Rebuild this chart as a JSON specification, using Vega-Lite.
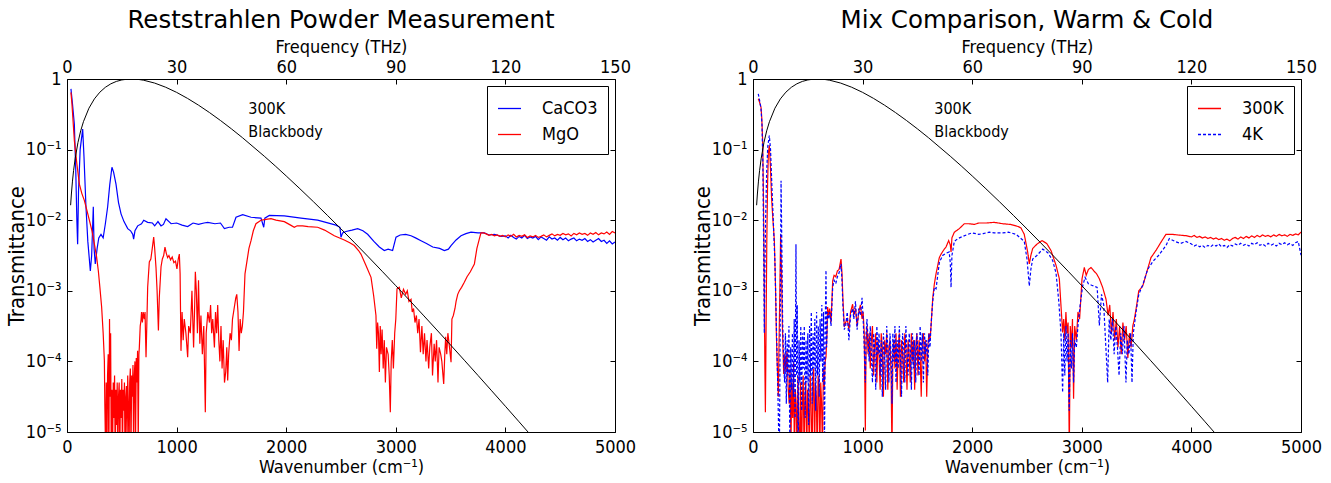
{
"$schema": "https://vega.github.io/schema/vega-lite/v6.json",
"padding": {"left": 4, "top": 7, "right": 5, "bottom": 2},
"background": "white",
"config": {
  "font": "DejaVu Sans Condensed",
  "view": {"stroke": "black", "strokeWidth": 1},
  "axis": {"grid": false, "domain": false, "tickColor": "black", "tickSize": -5, "tickWidth": 1, "labelColor": "black", "titleColor": "black", "labelFont": "DejaVu Sans Condensed", "titleFont": "DejaVu Sans Condensed", "labelFontSize": 18, "titleFontSize": 18, "titleFontWeight": "normal", "labelFlush": false, "labelOverlap": false, "labelBound": false},
  "legend": {"orient": "top-right", "offset": 7, "padding": 10, "strokeColor": "black", "fillColor": "white", "cornerRadius": 0, "labelFontSize": 18, "labelFont": "DejaVu Sans Condensed", "labelColor": "black", "symbolType": "stroke", "symbolSize": 529, "symbolStrokeWidth": 1.3, "rowPadding": 4, "labelOffset": 20},
  "title": {"fontSize": 24.5, "font": "DejaVu Sans", "fontWeight": "normal", "color": "black", "offset": 5, "anchor": "middle"}
},
"resolve": {"scale": {"color": "independent", "strokeDash": "independent"}, "legend": {"color": "independent", "strokeDash": "independent"}},
"datasets": {
  "bb": [{"x":33,"y":0.0163},{"x":40,"y":0.0235},{"x":50,"y":0.0358},{"x":60,"y":0.0503},{"x":75,"y":0.0756},{"x":100,"y":0.1261},{"x":125,"y":0.1845},{"x":150,"y":0.2486},{"x":200,"y":0.3856},{"x":250,"y":0.5232},{"x":300,"y":0.6514},{"x":350,"y":0.7633},{"x":400,"y":0.8547},{"x":450,"y":0.9236},{"x":500,"y":0.9698},{"x":550,"y":0.9943},{"x":600,"y":0.9993},{"x":650,"y":0.9869},{"x":700,"y":0.9604},{"x":800,"y":0.8754},{"x":900,"y":0.7651},{"x":1000,"y":0.6466},{"x":1100,"y":0.531},{"x":1200,"y":0.4257},{"x":1300,"y":0.3348},{"x":1400,"y":0.2585},{"x":1500,"y":0.1968},{"x":1600,"y":0.1478},{"x":1800,"y":0.0806},{"x":1900,"y":0.0587},{"x":2000,"y":0.04238},{"x":2125,"y":0.0279},{"x":2250,"y":0.01819},{"x":2375,"y":0.01174},{"x":2500,"y":0.007524},{"x":2625,"y":0.00478},{"x":2750,"y":0.003019},{"x":2875,"y":0.001893},{"x":3000,"y":0.0011818},{"x":3125,"y":0.0007334},{"x":3250,"y":0.000453},{"x":3375,"y":0.0002785},{"x":3500,"y":0.0001706},{"x":3625,"y":0.000104},{"x":3750,"y":0.00006326},{"x":3875,"y":0.0000383},{"x":4000,"y":0.00002315},{"x":4125,"y":0.00001394},{"x":4250,"y":0.00000837},{"x":4500,"y":0.000003}],
  "ann": [{"x":1654,"y":0.37,"t":"300K\nBlackbody"}],
  "left": [
{"s":"CaCO3","x":36,"y":0.724},{"s":"CaCO3","x":50,"y":0.447},{"s":"CaCO3","x":67,"y":0.229},{"s":"CaCO3","x":80,"y":0.0501},{"s":"CaCO3","x":90,"y":0.01},{"s":"CaCO3","x":97,"y":0.00457},{"s":"CaCO3","x":105,"y":0.0251},{"s":"CaCO3","x":120,"y":0.1},{"s":"CaCO3","x":143,"y":0.195},{"s":"CaCO3","x":155,"y":0.0794},{"s":"CaCO3","x":173,"y":0.0155},{"s":"CaCO3","x":190,"y":0.00501},{"s":"CaCO3","x":213,"y":0.00191},{"s":"CaCO3","x":225,"y":0.00316},{"s":"CaCO3","x":240,"y":0.0155},{"s":"CaCO3","x":247,"y":0.00398},{"s":"CaCO3","x":258,"y":0.0024},{"s":"CaCO3","x":275,"y":0.00398},{"s":"CaCO3","x":290,"y":0.00562},{"s":"CaCO3","x":310,"y":0.00631},{"s":"CaCO3","x":330,"y":0.00562},{"s":"CaCO3","x":350,"y":0.00891},{"s":"CaCO3","x":371,"y":0.0155},{"s":"CaCO3","x":390,"y":0.0316},{"s":"CaCO3","x":410,"y":0.0562},{"s":"CaCO3","x":425,"y":0.0479},{"s":"CaCO3","x":447,"y":0.0324},{"s":"CaCO3","x":470,"y":0.0178},{"s":"CaCO3","x":493,"y":0.0123},{"s":"CaCO3","x":520,"y":0.00955},{"s":"CaCO3","x":554,"y":0.00759},{"s":"CaCO3","x":580,"y":0.00708},{"s":"CaCO3","x":600,"y":0.00631},{"s":"CaCO3","x":608,"y":0.00537},{"s":"CaCO3","x":620,"y":0.00708},{"s":"CaCO3","x":645,"y":0.00832},{"s":"CaCO3","x":680,"y":0.00891},{"s":"CaCO3","x":700,"y":0.01},{"s":"CaCO3","x":736,"y":0.00933},{"s":"CaCO3","x":780,"y":0.00912},{"s":"CaCO3","x":800,"y":0.00832},{"s":"CaCO3","x":830,"y":0.00955},{"s":"CaCO3","x":858,"y":0.00832},{"s":"CaCO3","x":880,"y":0.00871},{"s":"CaCO3","x":903,"y":0.0105},{"s":"CaCO3","x":950,"y":0.00891},{"s":"CaCO3","x":1000,"y":0.00912},{"s":"CaCO3","x":1050,"y":0.00851},{"s":"CaCO3","x":1101,"y":0.00813},{"s":"CaCO3","x":1150,"y":0.00912},{"s":"CaCO3","x":1200,"y":0.00871},{"s":"CaCO3","x":1250,"y":0.00912},{"s":"CaCO3","x":1284,"y":0.00933},{"s":"CaCO3","x":1350,"y":0.00891},{"s":"CaCO3","x":1400,"y":0.00912},{"s":"CaCO3","x":1436,"y":0.00759},{"s":"CaCO3","x":1480,"y":0.00794},{"s":"CaCO3","x":1510,"y":0.00794},{"s":"CaCO3","x":1542,"y":0.011},{"s":"CaCO3","x":1603,"y":0.012},{"s":"CaCO3","x":1679,"y":0.011},{"s":"CaCO3","x":1770,"y":0.0107},{"s":"CaCO3","x":1795,"y":0.00794},{"s":"CaCO3","x":1805,"y":0.0107},{"s":"CaCO3","x":1846,"y":0.0117},{"s":"CaCO3","x":1983,"y":0.0115},{"s":"CaCO3","x":2135,"y":0.0107},{"s":"CaCO3","x":2287,"y":0.01},{"s":"CaCO3","x":2454,"y":0.00851},{"s":"CaCO3","x":2490,"y":0.00794},{"s":"CaCO3","x":2500,"y":0.00575},{"s":"CaCO3","x":2515,"y":0.00661},{"s":"CaCO3","x":2545,"y":0.00692},{"s":"CaCO3","x":2600,"y":0.00724},{"s":"CaCO3","x":2652,"y":0.00759},{"s":"CaCO3","x":2700,"y":0.00708},{"s":"CaCO3","x":2743,"y":0.00631},{"s":"CaCO3","x":2800,"y":0.00501},{"s":"CaCO3","x":2850,"y":0.00417},{"s":"CaCO3","x":2895,"y":0.00372},{"s":"CaCO3","x":2930,"y":0.00389},{"s":"CaCO3","x":2971,"y":0.00372},{"s":"CaCO3","x":3002,"y":0.00575},{"s":"CaCO3","x":3040,"y":0.00617},{"s":"CaCO3","x":3090,"y":0.00631},{"s":"CaCO3","x":3139,"y":0.00603},{"s":"CaCO3","x":3180,"y":0.00562},{"s":"CaCO3","x":3230,"y":0.00513},{"s":"CaCO3","x":3280,"y":0.00468},{"s":"CaCO3","x":3337,"y":0.00417},{"s":"CaCO3","x":3400,"y":0.00398},{"s":"CaCO3","x":3443,"y":0.00372},{"s":"CaCO3","x":3480,"y":0.00389},{"s":"CaCO3","x":3504,"y":0.00437},{"s":"CaCO3","x":3550,"y":0.00525},{"s":"CaCO3","x":3595,"y":0.00603},{"s":"CaCO3","x":3640,"y":0.00646},{"s":"CaCO3","x":3686,"y":0.00676},{"s":"CaCO3","x":3750,"y":0.00661},{"s":"CaCO3","x":3808,"y":0.00661},{"s":"CaCO3","x":3850,"y":0.00617},{"s":"CaCO3","x":3900,"y":0.00631},{"s":"CaCO3","x":3960,"y":0.00589},
{"s":"CaCO3","x":4000,"y":0.0060},{"s":"CaCO3","x":4025,"y":0.0056},{"s":"CaCO3","x":4050,"y":0.0061},{"s":"CaCO3","x":4075,"y":0.0057},{"s":"CaCO3","x":4100,"y":0.0054},{"s":"CaCO3","x":4125,"y":0.0059},{"s":"CaCO3","x":4150,"y":0.0056},{"s":"CaCO3","x":4175,"y":0.0061},{"s":"CaCO3","x":4200,"y":0.0055},{"s":"CaCO3","x":4225,"y":0.0058},{"s":"CaCO3","x":4250,"y":0.0056},{"s":"CaCO3","x":4275,"y":0.0059},{"s":"CaCO3","x":4300,"y":0.0053},{"s":"CaCO3","x":4325,"y":0.0058},{"s":"CaCO3","x":4350,"y":0.0055},{"s":"CaCO3","x":4375,"y":0.0052},{"s":"CaCO3","x":4400,"y":0.0058},{"s":"CaCO3","x":4425,"y":0.0054},{"s":"CaCO3","x":4450,"y":0.0056},{"s":"CaCO3","x":4475,"y":0.0052},{"s":"CaCO3","x":4500,"y":0.0057},{"s":"CaCO3","x":4525,"y":0.0053},{"s":"CaCO3","x":4550,"y":0.0056},{"s":"CaCO3","x":4575,"y":0.0051},{"s":"CaCO3","x":4600,"y":0.0054},{"s":"CaCO3","x":4625,"y":0.0056},{"s":"CaCO3","x":4650,"y":0.0051},{"s":"CaCO3","x":4675,"y":0.0054},{"s":"CaCO3","x":4700,"y":0.0052},{"s":"CaCO3","x":4725,"y":0.0055},{"s":"CaCO3","x":4750,"y":0.0050},{"s":"CaCO3","x":4775,"y":0.0053},{"s":"CaCO3","x":4800,"y":0.0049},{"s":"CaCO3","x":4825,"y":0.0052},{"s":"CaCO3","x":4850,"y":0.0055},{"s":"CaCO3","x":4875,"y":0.0050},{"s":"CaCO3","x":4900,"y":0.0052},{"s":"CaCO3","x":4925,"y":0.0047},{"s":"CaCO3","x":4950,"y":0.0051},{"s":"CaCO3","x":4975,"y":0.0046},{"s":"CaCO3","x":5000,"y":0.0049},
{"s":"MgO","x":36,"y":0.646},{"s":"MgO","x":45,"y":0.447},{"s":"MgO","x":67,"y":0.135},{"s":"MgO","x":90,"y":0.0631},{"s":"MgO","x":113,"y":0.0324},{"s":"MgO","x":135,"y":0.024},{"s":"MgO","x":158,"y":0.0191},{"s":"MgO","x":180,"y":0.0141},{"s":"MgO","x":204,"y":0.01},{"s":"MgO","x":228,"y":0.00708},{"s":"MgO","x":250,"y":0.00457},{"s":"MgO","x":270,"y":0.00302},{"s":"MgO","x":286,"y":0.00191},{"s":"MgO","x":300,"y":0.00112},{"s":"MgO","x":316,"y":0.000589},{"s":"MgO","x":330,"y":0.000251},{"s":"MgO","x":341,"y":0.000102},
{"s":"MgO","x":345,"y":2.51e-5},{"s":"MgO","x":352,"y":5.01e-6},{"s":"MgO","x":358,"y":5.01e-5},{"s":"MgO","x":364,"y":3.98e-6},{"s":"MgO","x":370,"y":6.31e-5},{"s":"MgO","x":376,"y":1.26e-4},{"s":"MgO","x":382,"y":3.16e-6},{"s":"MgO","x":388,"y":3.98e-4},{"s":"MgO","x":394,"y":3.16e-5},{"s":"MgO","x":398,"y":2.51e-4},{"s":"MgO","x":404,"y":3.98e-6},{"s":"MgO","x":410,"y":3.98e-5},{"s":"MgO","x":416,"y":5.01e-6},{"s":"MgO","x":422,"y":5.01e-5},{"s":"MgO","x":428,"y":1.58e-5},{"s":"MgO","x":434,"y":6.31e-5},{"s":"MgO","x":440,"y":3.16e-6},{"s":"MgO","x":446,"y":3.98e-5},{"s":"MgO","x":452,"y":1.26e-5},{"s":"MgO","x":458,"y":5.01e-5},{"s":"MgO","x":464,"y":3.98e-6},{"s":"MgO","x":470,"y":3.16e-5},{"s":"MgO","x":476,"y":5.01e-5},{"s":"MgO","x":482,"y":5.01e-6},{"s":"MgO","x":488,"y":3.98e-5},{"s":"MgO","x":494,"y":1.58e-5},{"s":"MgO","x":500,"y":5.62e-5},{"s":"MgO","x":506,"y":3.98e-6},{"s":"MgO","x":512,"y":3.98e-5},{"s":"MgO","x":518,"y":2.0e-5},{"s":"MgO","x":524,"y":5.01e-5},{"s":"MgO","x":530,"y":3.16e-6},{"s":"MgO","x":536,"y":3.16e-5},{"s":"MgO","x":542,"y":4.47e-5},{"s":"MgO","x":548,"y":6.31e-6},{"s":"MgO","x":554,"y":6.31e-5},{"s":"MgO","x":560,"y":2.51e-5},{"s":"MgO","x":566,"y":3.98e-6},{"s":"MgO","x":572,"y":5.01e-5},{"s":"MgO","x":578,"y":7.94e-5},{"s":"MgO","x":584,"y":5.01e-6},{"s":"MgO","x":590,"y":6.31e-5},{"s":"MgO","x":596,"y":3.16e-5},{"s":"MgO","x":602,"y":8.91e-5},{"s":"MgO","x":608,"y":3.98e-6},{"s":"MgO","x":614,"y":6.31e-5},{"s":"MgO","x":620,"y":1e-4},{"s":"MgO","x":626,"y":7.94e-6},{"s":"MgO","x":632,"y":1.12e-4},{"s":"MgO","x":638,"y":5.01e-5},{"s":"MgO","x":644,"y":1.41e-4},{"s":"MgO","x":650,"y":6.31e-6},{"s":"MgO","x":656,"y":1.26e-4},{"s":"MgO","x":660,"y":1.58e-4},
{"s":"MgO","x":668,"y":3.16e-4},{"s":"MgO","x":675,"y":3.8e-4},{"s":"MgO","x":680,"y":5.01e-4},{"s":"MgO","x":688,"y":3.55e-4},{"s":"MgO","x":695,"y":5.01e-4},{"s":"MgO","x":705,"y":3.98e-4},{"s":"MgO","x":712,"y":5.01e-4},{"s":"MgO","x":721,"y":1.15e-4},{"s":"MgO","x":728,"y":3.16e-4},{"s":"MgO","x":736,"y":1.12e-3},{"s":"MgO","x":751,"y":2.57e-3},{"s":"MgO","x":765,"y":2.82e-3},{"s":"MgO","x":778,"y":3.98e-3},{"s":"MgO","x":791,"y":5.75e-3},{"s":"MgO","x":800,"y":3.98e-3},{"s":"MgO","x":812,"y":2.14e-3},{"s":"MgO","x":822,"y":1e-3},{"s":"MgO","x":834,"y":2.75e-4},{"s":"MgO","x":842,"y":7.94e-4},{"s":"MgO","x":858,"y":2.19e-3},{"s":"MgO","x":870,"y":2.82e-3},{"s":"MgO","x":882,"y":3.16e-3},{"s":"MgO","x":894,"y":4.17e-3},{"s":"MgO","x":906,"y":3.39e-3},{"s":"MgO","x":918,"y":2.95e-3},{"s":"MgO","x":930,"y":3.16e-3},{"s":"MgO","x":945,"y":2.75e-3},{"s":"MgO","x":960,"y":3.02e-3},{"s":"MgO","x":975,"y":2.51e-3},{"s":"MgO","x":990,"y":2.63e-3},{"s":"MgO","x":1003,"y":2.04e-3},{"s":"MgO","x":1015,"y":2.82e-3},{"s":"MgO","x":1025,"y":3.31e-3},{"s":"MgO","x":1032,"y":1.74e-3},{"s":"MgO","x":1040,"y":1.41e-4},{"s":"MgO","x":1050,"y":5.01e-4},{"s":"MgO","x":1060,"y":2.0e-4},{"s":"MgO","x":1070,"y":3.98e-4},{"s":"MgO","x":1085,"y":2.51e-4},{"s":"MgO","x":1101,"y":1.15e-4},{"s":"MgO","x":1110,"y":3.16e-4},{"s":"MgO","x":1125,"y":2.51e-4},{"s":"MgO","x":1140,"y":1e-3},{"s":"MgO","x":1155,"y":1.58e-4},{"s":"MgO","x":1165,"y":6.31e-4},{"s":"MgO","x":1171,"y":1.86e-3},{"s":"MgO","x":1180,"y":1e-3},{"s":"MgO","x":1190,"y":2.51e-4},{"s":"MgO","x":1200,"y":1.41e-3},{"s":"MgO","x":1212,"y":1.78e-4},{"s":"MgO","x":1222,"y":4.47e-4},{"s":"MgO","x":1235,"y":1.26e-4},{"s":"MgO","x":1248,"y":3.16e-4},{"s":"MgO","x":1262,"y":1.91e-5},{"s":"MgO","x":1270,"y":2.51e-4},{"s":"MgO","x":1285,"y":5.01e-4},{"s":"MgO","x":1300,"y":3.55e-4},{"s":"MgO","x":1310,"y":6.31e-4},{"s":"MgO","x":1320,"y":2.51e-4},{"s":"MgO","x":1330,"y":3.98e-4},{"s":"MgO","x":1345,"y":1.58e-4},{"s":"MgO","x":1355,"y":5.01e-4},{"s":"MgO","x":1365,"y":2.51e-4},{"s":"MgO","x":1375,"y":6.31e-4},{"s":"MgO","x":1385,"y":2.0e-4},{"s":"MgO","x":1395,"y":1e-4},{"s":"MgO","x":1405,"y":3.16e-4},{"s":"MgO","x":1415,"y":7.94e-5},{"s":"MgO","x":1425,"y":2.0e-4},{"s":"MgO","x":1437,"y":5.01e-5},{"s":"MgO","x":1448,"y":7.08e-5},{"s":"MgO","x":1458,"y":1.58e-4},{"s":"MgO","x":1466,"y":5.37e-5},{"s":"MgO","x":1475,"y":1.26e-4},{"s":"MgO","x":1488,"y":2.51e-4},{"s":"MgO","x":1500,"y":2.0e-4},{"s":"MgO","x":1510,"y":3.98e-4},{"s":"MgO","x":1520,"y":5.01e-4},{"s":"MgO","x":1530,"y":6.31e-4},{"s":"MgO","x":1540,"y":7.94e-4},{"s":"MgO","x":1549,"y":8.91e-4},{"s":"MgO","x":1560,"y":5.01e-4},{"s":"MgO","x":1570,"y":1.41e-4},{"s":"MgO","x":1580,"y":3.98e-4},{"s":"MgO","x":1590,"y":2.51e-4},{"s":"MgO","x":1600,"y":3.16e-4},{"s":"MgO","x":1610,"y":5.01e-4},{"s":"MgO","x":1624,"y":1.74e-3},{"s":"MgO","x":1640,"y":2.51e-3},{"s":"MgO","x":1660,"y":3.98e-3},{"s":"MgO","x":1679,"y":5.13e-3},{"s":"MgO","x":1700,"y":7.08e-3},{"s":"MgO","x":1724,"y":8.91e-3},{"s":"MgO","x":1770,"y":0.01},{"s":"MgO","x":1800,"y":0.0102},{"s":"MgO","x":1861,"y":0.0105},{"s":"MgO","x":1907,"y":0.01},{"s":"MgO","x":1983,"y":9.55e-3},{"s":"MgO","x":2040,"y":8.51e-3},{"s":"MgO","x":2074,"y":7.94e-3},{"s":"MgO","x":2100,"y":8.32e-3},{"s":"MgO","x":2150,"y":8.32e-3},{"s":"MgO","x":2200,"y":8.13e-3},{"s":"MgO","x":2287,"y":7.94e-3},{"s":"MgO","x":2350,"y":7.24e-3},{"s":"MgO","x":2439,"y":6.03e-3},{"s":"MgO","x":2530,"y":5.25e-3},{"s":"MgO","x":2580,"y":4.79e-3},{"s":"MgO","x":2621,"y":4.37e-3},{"s":"MgO","x":2660,"y":3.72e-3},{"s":"MgO","x":2682,"y":3.31e-3},{"s":"MgO","x":2728,"y":2.29e-3},{"s":"MgO","x":2774,"y":1.55e-3},{"s":"MgO","x":2798,"y":8.51e-4},{"s":"MgO","x":2819,"y":4.47e-4},{"s":"MgO","x":2826,"y":1.51e-4},{"s":"MgO","x":2834,"y":3.55e-4},{"s":"MgO","x":2842,"y":2.51e-4},{"s":"MgO","x":2850,"y":7.08e-5},{"s":"MgO","x":2858,"y":3.16e-4},{"s":"MgO","x":2866,"y":1.26e-4},{"s":"MgO","x":2875,"y":2.82e-4},{"s":"MgO","x":2885,"y":7.94e-5},{"s":"MgO","x":2895,"y":2.0e-4},{"s":"MgO","x":2905,"y":5.01e-5},{"s":"MgO","x":2915,"y":1.58e-4},{"s":"MgO","x":2930,"y":1.26e-4},{"s":"MgO","x":2940,"y":6.31e-5},{"s":"MgO","x":2950,"y":1.91e-5},{"s":"MgO","x":2958,"y":1e-4},{"s":"MgO","x":2968,"y":2.0e-4},{"s":"MgO","x":2978,"y":7.94e-5},{"s":"MgO","x":2990,"y":2.51e-4},{"s":"MgO","x":3000,"y":3.98e-4},{"s":"MgO","x":3011,"y":1.07e-3},{"s":"MgO","x":3032,"y":1.12e-3},{"s":"MgO","x":3050,"y":7.94e-4},{"s":"MgO","x":3070,"y":1.05e-3},{"s":"MgO","x":3090,"y":8.91e-4},{"s":"MgO","x":3105,"y":1e-3},{"s":"MgO","x":3120,"y":7.08e-4},{"s":"MgO","x":3139,"y":7.59e-4},{"s":"MgO","x":3150,"y":5.01e-4},{"s":"MgO","x":3162,"y":5.62e-4},{"s":"MgO","x":3175,"y":3.55e-4},{"s":"MgO","x":3188,"y":4.47e-4},{"s":"MgO","x":3200,"y":2.51e-4},{"s":"MgO","x":3212,"y":3.98e-4},{"s":"MgO","x":3225,"y":1.35e-4},{"s":"MgO","x":3238,"y":3.16e-4},{"s":"MgO","x":3250,"y":1.26e-4},{"s":"MgO","x":3262,"y":2.51e-4},{"s":"MgO","x":3275,"y":1e-4},{"s":"MgO","x":3285,"y":2.0e-4},{"s":"MgO","x":3300,"y":7.94e-5},{"s":"MgO","x":3310,"y":1.58e-4},{"s":"MgO","x":3325,"y":2.51e-4},{"s":"MgO","x":3335,"y":6.31e-5},{"s":"MgO","x":3350,"y":1.78e-4},{"s":"MgO","x":3360,"y":1e-4},{"s":"MgO","x":3372,"y":2.0e-4},{"s":"MgO","x":3385,"y":5.01e-5},{"s":"MgO","x":3395,"y":1.58e-4},{"s":"MgO","x":3410,"y":1.26e-4},{"s":"MgO","x":3420,"y":1e-4},{"s":"MgO","x":3437,"y":4.79e-5},{"s":"MgO","x":3447,"y":1.26e-4},{"s":"MgO","x":3455,"y":2.24e-4},{"s":"MgO","x":3465,"y":1.26e-4},{"s":"MgO","x":3475,"y":2.51e-4},{"s":"MgO","x":3490,"y":1.58e-4},{"s":"MgO","x":3504,"y":9.77e-5},{"s":"MgO","x":3512,"y":3.98e-4},{"s":"MgO","x":3525,"y":4.47e-4},{"s":"MgO","x":3540,"y":5.62e-4},{"s":"MgO","x":3550,"y":7.08e-4},{"s":"MgO","x":3565,"y":8.91e-4},{"s":"MgO","x":3580,"y":1e-3},{"s":"MgO","x":3600,"y":1.12e-3},{"s":"MgO","x":3625,"y":1.32e-3},{"s":"MgO","x":3650,"y":1.58e-3},{"s":"MgO","x":3680,"y":1.86e-3},{"s":"MgO","x":3717,"y":2.4e-3},{"s":"MgO","x":3740,"y":3.98e-3},{"s":"MgO","x":3760,"y":5.25e-3},{"s":"MgO","x":3777,"y":6.61e-3},{"s":"MgO","x":3800,"y":6.61e-3},
{"s":"MgO","x":3825,"y":0.0064},{"s":"MgO","x":3850,"y":0.0061},{"s":"MgO","x":3875,"y":0.0063},{"s":"MgO","x":3900,"y":0.0060},{"s":"MgO","x":3925,"y":0.0062},{"s":"MgO","x":3950,"y":0.0059},{"s":"MgO","x":3975,"y":0.0061},{"s":"MgO","x":4000,"y":0.0058},{"s":"MgO","x":4025,"y":0.0062},{"s":"MgO","x":4050,"y":0.0059},{"s":"MgO","x":4075,"y":0.0063},{"s":"MgO","x":4100,"y":0.0058},{"s":"MgO","x":4125,"y":0.0061},{"s":"MgO","x":4150,"y":0.0059},{"s":"MgO","x":4175,"y":0.0062},{"s":"MgO","x":4200,"y":0.0057},{"s":"MgO","x":4225,"y":0.0060},{"s":"MgO","x":4250,"y":0.0058},{"s":"MgO","x":4275,"y":0.0061},{"s":"MgO","x":4300,"y":0.0057},{"s":"MgO","x":4325,"y":0.0059},{"s":"MgO","x":4350,"y":0.0062},{"s":"MgO","x":4375,"y":0.0058},{"s":"MgO","x":4400,"y":0.0061},{"s":"MgO","x":4425,"y":0.0064},{"s":"MgO","x":4450,"y":0.0060},{"s":"MgO","x":4475,"y":0.0063},{"s":"MgO","x":4500,"y":0.0061},{"s":"MgO","x":4525,"y":0.0065},{"s":"MgO","x":4550,"y":0.0062},{"s":"MgO","x":4575,"y":0.0064},{"s":"MgO","x":4600,"y":0.0060},{"s":"MgO","x":4625,"y":0.0065},{"s":"MgO","x":4650,"y":0.0062},{"s":"MgO","x":4675,"y":0.0066},{"s":"MgO","x":4700,"y":0.0063},{"s":"MgO","x":4725,"y":0.0065},{"s":"MgO","x":4750,"y":0.0061},{"s":"MgO","x":4775,"y":0.0066},{"s":"MgO","x":4800,"y":0.0063},{"s":"MgO","x":4825,"y":0.0067},{"s":"MgO","x":4850,"y":0.0062},{"s":"MgO","x":4875,"y":0.0066},{"s":"MgO","x":4900,"y":0.0064},{"s":"MgO","x":4925,"y":0.0068},{"s":"MgO","x":4950,"y":0.0063},{"s":"MgO","x":4975,"y":0.0069},{"s":"MgO","x":5000,"y":0.0066}
  ],
  "right": [
{"s":"300K","x":48,"y":0.525},{"s":"300K","x":60,"y":0.468},{"s":"300K","x":73,"y":0.398},{"s":"300K","x":80,"y":0.282},{"s":"300K","x":88,"y":0.135},{"s":"300K","x":95,"y":0.0251},{"s":"300K","x":100,"y":3.16e-3},{"s":"300K","x":104,"y":5.89e-4},{"s":"300K","x":108,"y":1e-4},{"s":"300K","x":113,"y":1.91e-5},{"s":"300K","x":117,"y":1e-4},{"s":"300K","x":121,"y":6.31e-4},{"s":"300K","x":126,"y":5.01e-3},{"s":"300K","x":133,"y":0.0316},{"s":"300K","x":140,"y":0.0891},{"s":"300K","x":149,"y":0.115},{"s":"300K","x":158,"y":0.0631},{"s":"300K","x":170,"y":0.02},{"s":"300K","x":182,"y":0.01},{"s":"300K","x":195,"y":5.13e-3},{"s":"300K","x":205,"y":1.26e-3},{"s":"300K","x":213,"y":2.51e-4},{"s":"300K","x":220,"y":1e-4},{"s":"300K","x":231,"y":3.16e-5},{"s":"300K","x":237,"y":1.58e-4},{"s":"300K","x":245,"y":1e-3},{"s":"300K","x":252,"y":6.31e-3},{"s":"300K","x":260,"y":2.0e-3},{"s":"300K","x":268,"y":3.16e-4},{"s":"300K","x":280,"y":6.61e-5},{"s":"300K","x":290,"y":1.26e-4},{"s":"300K","x":300,"y":7.08e-5},{"s":"300K","x":310,"y":1.41e-4},{"s":"300K","x":320,"y":4.47e-5},{"s":"300K","x":330,"y":2.51e-5},{"s":"300K","x":338,"y":7.94e-5},{"s":"300K","x":346,"y":6.31e-6},{"s":"300K","x":354,"y":5.01e-5},{"s":"300K","x":362,"y":1.58e-5},{"s":"300K","x":370,"y":1e-4},{"s":"300K","x":378,"y":3.98e-6},{"s":"300K","x":386,"y":3.98e-5},{"s":"300K","x":394,"y":2.51e-5},{"s":"300K","x":402,"y":5.01e-6},{"s":"300K","x":410,"y":6.31e-5},{"s":"300K","x":418,"y":1.26e-5},{"s":"300K","x":426,"y":3.98e-6},{"s":"300K","x":434,"y":5.01e-5},{"s":"300K","x":442,"y":3.16e-6},{"s":"300K","x":450,"y":2.51e-5},{"s":"300K","x":458,"y":6.31e-5},{"s":"300K","x":466,"y":5.01e-6},{"s":"300K","x":474,"y":3.16e-5},{"s":"300K","x":482,"y":5.01e-5},{"s":"300K","x":490,"y":3.98e-6},{"s":"300K","x":498,"y":3.98e-5},{"s":"300K","x":506,"y":2.0e-5},{"s":"300K","x":514,"y":6.31e-6},{"s":"300K","x":522,"y":6.31e-5},{"s":"300K","x":530,"y":2.51e-5},{"s":"300K","x":538,"y":3.16e-6},{"s":"300K","x":546,"y":3.98e-5},{"s":"300K","x":554,"y":7.94e-5},{"s":"300K","x":562,"y":5.01e-6},{"s":"300K","x":570,"y":5.01e-5},{"s":"300K","x":578,"y":3.16e-5},{"s":"300K","x":586,"y":3.98e-6},{"s":"300K","x":594,"y":6.31e-5},{"s":"300K","x":602,"y":3.98e-5},{"s":"300K","x":610,"y":5.01e-6},{"s":"300K","x":618,"y":5.01e-5},{"s":"300K","x":626,"y":2.51e-5},{"s":"300K","x":634,"y":5.01e-6},{"s":"300K","x":642,"y":7.94e-5},{"s":"300K","x":650,"y":3.98e-5},{"s":"300K","x":658,"y":1e-4},{"s":"300K","x":666,"y":1.15e-4},{"s":"300K","x":675,"y":2.51e-4},{"s":"300K","x":681,"y":5.89e-4},{"s":"300K","x":690,"y":4.47e-4},{"s":"300K","x":700,"y":5.62e-4},{"s":"300K","x":712,"y":3.55e-4},{"s":"300K","x":727,"y":1.38e-3},{"s":"300K","x":740,"y":1.66e-3},{"s":"300K","x":755,"y":1.58e-3},{"s":"300K","x":770,"y":1.91e-3},{"s":"300K","x":785,"y":2.0e-3},{"s":"300K","x":803,"y":2.82e-3},{"s":"300K","x":812,"y":1.78e-3},{"s":"300K","x":820,"y":7.94e-4},{"s":"300K","x":833,"y":3.09e-4},{"s":"300K","x":845,"y":3.55e-4},{"s":"300K","x":860,"y":3.98e-4},{"s":"300K","x":875,"y":2.82e-4},{"s":"300K","x":890,"y":5.01e-4},{"s":"300K","x":909,"y":6.46e-4},{"s":"300K","x":920,"y":4.47e-4},{"s":"300K","x":935,"y":5.62e-4},{"s":"300K","x":950,"y":3.16e-4},{"s":"300K","x":965,"y":5.01e-4},{"s":"300K","x":980,"y":6.31e-4},{"s":"300K","x":995,"y":3.98e-4},{"s":"300K","x":1005,"y":5.01e-4},{"s":"300K","x":1015,"y":2.51e-4},{"s":"300K","x":1025,"y":1.05e-5},{"s":"300K","x":1032,"y":2.0e-4},{"s":"300K","x":1040,"y":3.16e-4},{"s":"300K","x":1050,"y":1.26e-4},{"s":"300K","x":1060,"y":2.51e-4},{"s":"300K","x":1070,"y":7.94e-5},{"s":"300K","x":1080,"y":2.0e-4},{"s":"300K","x":1090,"y":3.16e-4},{"s":"300K","x":1100,"y":6.31e-5},{"s":"300K","x":1110,"y":1.58e-4},{"s":"300K","x":1120,"y":2.51e-4},{"s":"300K","x":1130,"y":5.01e-5},{"s":"300K","x":1140,"y":2.0e-4},{"s":"300K","x":1150,"y":1.26e-4},{"s":"300K","x":1160,"y":3.98e-5},{"s":"300K","x":1170,"y":2.51e-4},{"s":"300K","x":1180,"y":1.58e-4},{"s":"300K","x":1190,"y":3.16e-5},{"s":"300K","x":1200,"y":2.0e-4},{"s":"300K","x":1210,"y":1.26e-4},{"s":"300K","x":1220,"y":2.51e-4},{"s":"300K","x":1230,"y":3.98e-5},{"s":"300K","x":1240,"y":1.58e-4},{"s":"300K","x":1250,"y":2.0e-4},{"s":"300K","x":1260,"y":6.31e-5},{"s":"300K","x":1268,"y":5.01e-6},{"s":"300K","x":1276,"y":1.26e-4},{"s":"300K","x":1285,"y":2.0e-4},{"s":"300K","x":1295,"y":7.94e-5},{"s":"300K","x":1305,"y":2.51e-4},{"s":"300K","x":1315,"y":3.98e-5},{"s":"300K","x":1325,"y":1.58e-4},{"s":"300K","x":1335,"y":2.51e-4},{"s":"300K","x":1345,"y":3.16e-5},{"s":"300K","x":1355,"y":2.0e-4},{"s":"300K","x":1365,"y":1.26e-4},{"s":"300K","x":1375,"y":5.01e-5},{"s":"300K","x":1385,"y":2.51e-4},{"s":"300K","x":1395,"y":1.58e-4},{"s":"300K","x":1405,"y":3.98e-5},{"s":"300K","x":1415,"y":2.0e-4},{"s":"300K","x":1425,"y":1.26e-4},{"s":"300K","x":1435,"y":5.01e-5},{"s":"300K","x":1445,"y":2.51e-4},{"s":"300K","x":1455,"y":1e-4},{"s":"300K","x":1465,"y":2.0e-4},{"s":"300K","x":1475,"y":3.98e-5},{"s":"300K","x":1485,"y":1.58e-4},{"s":"300K","x":1495,"y":2.51e-4},{"s":"300K","x":1505,"y":6.31e-5},{"s":"300K","x":1515,"y":2.0e-4},{"s":"300K","x":1525,"y":1.26e-4},{"s":"300K","x":1535,"y":3.16e-5},{"s":"300K","x":1545,"y":2.0e-4},{"s":"300K","x":1555,"y":2.51e-4},{"s":"300K","x":1565,"y":1e-4},{"s":"300K","x":1575,"y":2.0e-4},{"s":"300K","x":1585,"y":3.16e-5},{"s":"300K","x":1595,"y":1.58e-4},{"s":"300K","x":1605,"y":2.51e-4},{"s":"300K","x":1615,"y":2.0e-4},{"s":"300K","x":1624,"y":3.09e-4},{"s":"300K","x":1640,"y":7.94e-4},{"s":"300K","x":1655,"y":1.26e-3},{"s":"300K","x":1670,"y":1.74e-3},{"s":"300K","x":1700,"y":2.95e-3},{"s":"300K","x":1716,"y":3.31e-3},{"s":"300K","x":1745,"y":3.89e-3},{"s":"300K","x":1761,"y":4.17e-3},{"s":"300K","x":1785,"y":5.13e-3},{"s":"300K","x":1800,"y":4.47e-3},{"s":"300K","x":1807,"y":3.55e-3},{"s":"300K","x":1815,"y":5.62e-3},{"s":"300K","x":1837,"y":6.76e-3},{"s":"300K","x":1882,"y":7.59e-3},{"s":"300K","x":1928,"y":8.91e-3},{"s":"300K","x":1970,"y":8.91e-3},{"s":"300K","x":2020,"y":8.71e-3},{"s":"300K","x":2060,"y":9.12e-3},{"s":"300K","x":2126,"y":9.12e-3},{"s":"300K","x":2200,"y":9.33e-3},{"s":"300K","x":2278,"y":8.91e-3},{"s":"300K","x":2350,"y":8.71e-3},{"s":"300K","x":2420,"y":8.13e-3},{"s":"300K","x":2445,"y":7.76e-3},{"s":"300K","x":2475,"y":6.31e-3},{"s":"300K","x":2506,"y":3.55e-3},{"s":"300K","x":2521,"y":2.4e-3},{"s":"300K","x":2535,"y":3.16e-3},{"s":"300K","x":2552,"y":3.98e-3},{"s":"300K","x":2590,"y":4.57e-3},{"s":"300K","x":2637,"y":5.13e-3},{"s":"300K","x":2680,"y":4.68e-3},{"s":"300K","x":2719,"y":3.72e-3},{"s":"300K","x":2765,"y":2.29e-3},{"s":"300K","x":2795,"y":1.48e-3},{"s":"300K","x":2810,"y":6.17e-4},{"s":"300K","x":2825,"y":2.57e-4},{"s":"300K","x":2835,"y":3.98e-4},{"s":"300K","x":2845,"y":2.0e-4},{"s":"300K","x":2855,"y":5.01e-4},{"s":"300K","x":2865,"y":2.51e-4},{"s":"300K","x":2875,"y":3.55e-4},{"s":"300K","x":2886,"y":5.01e-6},{"s":"300K","x":2895,"y":3.16e-4},{"s":"300K","x":2905,"y":1.58e-4},{"s":"300K","x":2915,"y":3.98e-4},{"s":"300K","x":2925,"y":2.95e-5},{"s":"300K","x":2935,"y":3.16e-4},{"s":"300K","x":2950,"y":2.0e-4},{"s":"300K","x":2965,"y":5.01e-4},{"s":"300K","x":2980,"y":3.98e-4},{"s":"300K","x":3002,"y":1.48e-3},{"s":"300K","x":3023,"y":2.14e-3},{"s":"300K","x":3040,"y":1.66e-3},{"s":"300K","x":3060,"y":2.0e-3},{"s":"300K","x":3084,"y":2.14e-3},{"s":"300K","x":3110,"y":1.91e-3},{"s":"300K","x":3135,"y":1.74e-3},{"s":"300K","x":3160,"y":1.48e-3},{"s":"300K","x":3190,"y":1.12e-3},{"s":"300K","x":3221,"y":7.59e-4},{"s":"300K","x":3240,"y":4.47e-4},{"s":"300K","x":3255,"y":6.31e-4},{"s":"300K","x":3270,"y":2.51e-4},{"s":"300K","x":3285,"y":5.01e-4},{"s":"300K","x":3300,"y":2.0e-4},{"s":"300K","x":3315,"y":3.98e-4},{"s":"300K","x":3330,"y":1.58e-4},{"s":"300K","x":3345,"y":3.16e-4},{"s":"300K","x":3360,"y":1.26e-4},{"s":"300K","x":3375,"y":3.55e-4},{"s":"300K","x":3390,"y":2.0e-4},{"s":"300K","x":3405,"y":3.16e-4},{"s":"300K","x":3420,"y":1.12e-4},{"s":"300K","x":3435,"y":2.51e-4},{"s":"300K","x":3450,"y":1.58e-4},{"s":"300K","x":3465,"y":3.16e-4},{"s":"300K","x":3480,"y":3.98e-4},{"s":"300K","x":3495,"y":5.5e-4},{"s":"300K","x":3520,"y":1e-3},{"s":"300K","x":3556,"y":1.17e-3},{"s":"300K","x":3590,"y":1.78e-3},{"s":"300K","x":3631,"y":2.95e-3},{"s":"300K","x":3680,"y":3.8e-3},{"s":"300K","x":3723,"y":4.9e-3},{"s":"300K","x":3768,"y":6.31e-3},{"s":"300K","x":3820,"y":6.31e-3},{"s":"300K","x":3880,"y":6.17e-3},{"s":"300K","x":3951,"y":6.03e-3},
{"s":"300K","x":4000,"y":0.0058},{"s":"300K","x":4025,"y":0.0061},{"s":"300K","x":4050,"y":0.0057},{"s":"300K","x":4075,"y":0.0059},{"s":"300K","x":4100,"y":0.0056},{"s":"300K","x":4125,"y":0.0058},{"s":"300K","x":4150,"y":0.0055},{"s":"300K","x":4175,"y":0.0057},{"s":"300K","x":4200,"y":0.0054},{"s":"300K","x":4225,"y":0.0056},{"s":"300K","x":4250,"y":0.0053},{"s":"300K","x":4275,"y":0.0055},{"s":"300K","x":4300,"y":0.0052},{"s":"300K","x":4325,"y":0.0054},{"s":"300K","x":4350,"y":0.0051},{"s":"300K","x":4375,"y":0.0055},{"s":"300K","x":4400,"y":0.0057},{"s":"300K","x":4425,"y":0.0054},{"s":"300K","x":4450,"y":0.0058},{"s":"300K","x":4475,"y":0.0055},{"s":"300K","x":4500,"y":0.0059},{"s":"300K","x":4525,"y":0.0056},{"s":"300K","x":4550,"y":0.0060},{"s":"300K","x":4575,"y":0.0057},{"s":"300K","x":4600,"y":0.0061},{"s":"300K","x":4625,"y":0.0058},{"s":"300K","x":4650,"y":0.0062},{"s":"300K","x":4675,"y":0.0059},{"s":"300K","x":4700,"y":0.0061},{"s":"300K","x":4725,"y":0.0058},{"s":"300K","x":4750,"y":0.0062},{"s":"300K","x":4775,"y":0.0059},{"s":"300K","x":4800,"y":0.0063},{"s":"300K","x":4825,"y":0.0060},{"s":"300K","x":4850,"y":0.0062},{"s":"300K","x":4875,"y":0.0059},{"s":"300K","x":4900,"y":0.0063},{"s":"300K","x":4925,"y":0.0061},{"s":"300K","x":4950,"y":0.0064},{"s":"300K","x":4975,"y":0.0062},{"s":"300K","x":5000,"y":0.0068},
{"s":"4K","x":48,"y":0.617},{"s":"4K","x":60,"y":0.501},{"s":"4K","x":73,"y":0.38},{"s":"4K","x":82,"y":0.224},{"s":"4K","x":90,"y":0.0631},{"s":"4K","x":97,"y":5.01e-3},{"s":"4K","x":103,"y":2.51e-4},{"s":"4K","x":108,"y":1.58e-3},{"s":"4K","x":115,"y":0.01},{"s":"4K","x":125,"y":0.0501},{"s":"4K","x":135,"y":0.112},{"s":"4K","x":149,"y":0.158},{"s":"4K","x":160,"y":0.1},{"s":"4K","x":172,"y":0.0316},{"s":"4K","x":185,"y":0.01},{"s":"4K","x":200,"y":2.51e-3},{"s":"4K","x":215,"y":2.51e-4},{"s":"4K","x":228,"y":3.16e-5},{"s":"4K","x":240,"y":3.16e-6},{"s":"4K","x":248,"y":3.16e-4},{"s":"4K","x":256,"y":0.0363},{"s":"4K","x":262,"y":6.31e-3},{"s":"4K","x":270,"y":3.98e-4},{"s":"4K","x":280,"y":1e-4},{"s":"4K","x":288,"y":5.01e-5},{"s":"4K","x":296,"y":2.51e-4},{"s":"4K","x":304,"y":2.51e-5},{"s":"4K","x":312,"y":2.0e-4},{"s":"4K","x":320,"y":6.31e-5},{"s":"4K","x":328,"y":3.16e-4},{"s":"4K","x":336,"y":6.31e-6},{"s":"4K","x":344,"y":1.58e-4},{"s":"4K","x":352,"y":3.98e-5},{"s":"4K","x":360,"y":2.51e-4},{"s":"4K","x":368,"y":3.16e-5},{"s":"4K","x":376,"y":3.98e-4},{"s":"4K","x":384,"y":1.58e-5},{"s":"4K","x":392,"y":4.57e-3},{"s":"4K","x":398,"y":6.31e-5},{"s":"4K","x":404,"y":6.31e-4},{"s":"4K","x":412,"y":3.98e-6},{"s":"4K","x":420,"y":2.0e-4},{"s":"4K","x":428,"y":5.01e-5},{"s":"4K","x":436,"y":3.16e-4},{"s":"4K","x":444,"y":2.0e-5},{"s":"4K","x":452,"y":2.51e-4},{"s":"4K","x":460,"y":7.94e-5},{"s":"4K","x":468,"y":3.16e-4},{"s":"4K","x":476,"y":1.58e-5},{"s":"4K","x":484,"y":2.0e-4},{"s":"4K","x":492,"y":5.01e-5},{"s":"4K","x":500,"y":2.51e-4},{"s":"4K","x":508,"y":1.26e-5},{"s":"4K","x":516,"y":3.16e-4},{"s":"4K","x":524,"y":6.31e-5},{"s":"4K","x":532,"y":5.01e-4},{"s":"4K","x":540,"y":2.51e-5},{"s":"4K","x":548,"y":2.51e-4},{"s":"4K","x":556,"y":7.94e-5},{"s":"4K","x":564,"y":3.98e-4},{"s":"4K","x":572,"y":2.0e-5},{"s":"4K","x":580,"y":5.01e-4},{"s":"4K","x":588,"y":6.31e-5},{"s":"4K","x":596,"y":3.16e-4},{"s":"4K","x":604,"y":3.16e-5},{"s":"4K","x":612,"y":3.98e-4},{"s":"4K","x":620,"y":1e-4},{"s":"4K","x":628,"y":6.31e-4},{"s":"4K","x":636,"y":5.01e-5},{"s":"4K","x":644,"y":5.01e-4},{"s":"4K","x":652,"y":5.01e-6},{"s":"4K","x":660,"y":3.98e-4},{"s":"4K","x":666,"y":1.95e-3},{"s":"4K","x":672,"y":1.58e-4},{"s":"4K","x":680,"y":5.01e-4},{"s":"4K","x":690,"y":3.98e-4},{"s":"4K","x":700,"y":5.01e-4},{"s":"4K","x":712,"y":3.16e-4},{"s":"4K","x":727,"y":1.12e-3},{"s":"4K","x":740,"y":1.41e-3},{"s":"4K","x":755,"y":1.26e-3},{"s":"4K","x":770,"y":1.58e-3},{"s":"4K","x":785,"y":1.78e-3},{"s":"4K","x":803,"y":2.4e-3},{"s":"4K","x":812,"y":1.41e-3},{"s":"4K","x":820,"y":6.31e-4},{"s":"4K","x":833,"y":2.82e-4},{"s":"4K","x":845,"y":3.16e-4},{"s":"4K","x":860,"y":5.01e-4},{"s":"4K","x":875,"y":2.0e-4},{"s":"4K","x":890,"y":4.47e-4},{"s":"4K","x":909,"y":5.62e-4},{"s":"4K","x":920,"y":3.98e-4},{"s":"4K","x":935,"y":7.08e-4},{"s":"4K","x":950,"y":2.82e-4},{"s":"4K","x":965,"y":5.62e-4},{"s":"4K","x":980,"y":4.47e-4},{"s":"4K","x":995,"y":7.94e-4},{"s":"4K","x":1005,"y":3.98e-4},{"s":"4K","x":1015,"y":1.58e-4},{"s":"4K","x":1025,"y":5.01e-5},{"s":"4K","x":1032,"y":2.51e-4},{"s":"4K","x":1040,"y":3.98e-4},{"s":"4K","x":1050,"y":2.0e-4},{"s":"4K","x":1060,"y":1e-4},{"s":"4K","x":1070,"y":3.16e-4},{"s":"4K","x":1080,"y":1.26e-4},{"s":"4K","x":1090,"y":5.01e-5},{"s":"4K","x":1100,"y":2.51e-4},{"s":"4K","x":1110,"y":1.58e-4},{"s":"4K","x":1120,"y":3.98e-5},{"s":"4K","x":1130,"y":3.16e-4},{"s":"4K","x":1140,"y":1.26e-4},{"s":"4K","x":1150,"y":2.51e-4},{"s":"4K","x":1160,"y":6.31e-5},{"s":"4K","x":1170,"y":2.0e-4},{"s":"4K","x":1180,"y":3.16e-5},{"s":"4K","x":1190,"y":2.51e-4},{"s":"4K","x":1200,"y":1.26e-4},{"s":"4K","x":1210,"y":3.98e-5},{"s":"4K","x":1220,"y":3.16e-4},{"s":"4K","x":1230,"y":1.58e-4},{"s":"4K","x":1240,"y":5.01e-5},{"s":"4K","x":1250,"y":2.51e-4},{"s":"4K","x":1260,"y":1.26e-4},{"s":"4K","x":1268,"y":2.51e-5},{"s":"4K","x":1276,"y":2.51e-4},{"s":"4K","x":1285,"y":1e-4},{"s":"4K","x":1295,"y":3.16e-4},{"s":"4K","x":1305,"y":5.01e-5},{"s":"4K","x":1315,"y":2.0e-4},{"s":"4K","x":1325,"y":7.94e-5},{"s":"4K","x":1335,"y":3.16e-4},{"s":"4K","x":1345,"y":1.26e-4},{"s":"4K","x":1355,"y":3.16e-5},{"s":"4K","x":1365,"y":2.51e-4},{"s":"4K","x":1375,"y":1.58e-4},{"s":"4K","x":1385,"y":5.01e-5},{"s":"4K","x":1395,"y":3.16e-4},{"s":"4K","x":1405,"y":1.26e-4},{"s":"4K","x":1415,"y":6.31e-5},{"s":"4K","x":1425,"y":2.51e-4},{"s":"4K","x":1435,"y":1.58e-4},{"s":"4K","x":1445,"y":3.98e-5},{"s":"4K","x":1455,"y":2.51e-4},{"s":"4K","x":1465,"y":7.94e-5},{"s":"4K","x":1475,"y":2.0e-4},{"s":"4K","x":1485,"y":5.01e-5},{"s":"4K","x":1495,"y":2.51e-4},{"s":"4K","x":1505,"y":1.26e-4},{"s":"4K","x":1515,"y":6.31e-5},{"s":"4K","x":1525,"y":3.16e-4},{"s":"4K","x":1535,"y":1e-4},{"s":"4K","x":1545,"y":2.51e-4},{"s":"4K","x":1555,"y":5.01e-5},{"s":"4K","x":1565,"y":2.51e-4},{"s":"4K","x":1575,"y":1.26e-4},{"s":"4K","x":1585,"y":2.0e-4},{"s":"4K","x":1595,"y":6.31e-5},{"s":"4K","x":1605,"y":2.51e-4},{"s":"4K","x":1615,"y":1.58e-4},{"s":"4K","x":1624,"y":3.16e-4},{"s":"4K","x":1640,"y":7.08e-4},{"s":"4K","x":1655,"y":1.12e-3},{"s":"4K","x":1670,"y":1.07e-3},{"s":"4K","x":1700,"y":2.51e-3},{"s":"4K","x":1730,"y":3.16e-3},{"s":"4K","x":1760,"y":3.39e-3},{"s":"4K","x":1790,"y":3.55e-3},{"s":"4K","x":1800,"y":2.51e-3},{"s":"4K","x":1807,"y":1.12e-3},{"s":"4K","x":1815,"y":3.16e-3},{"s":"4K","x":1837,"y":5.01e-3},{"s":"4K","x":1870,"y":5.5e-3},{"s":"4K","x":1913,"y":5.89e-3},{"s":"4K","x":1960,"y":6.31e-3},{"s":"4K","x":2000,"y":6.61e-3},{"s":"4K","x":2060,"y":6.31e-3},{"s":"4K","x":2100,"y":6.46e-3},{"s":"4K","x":2156,"y":6.76e-3},{"s":"4K","x":2200,"y":6.61e-3},{"s":"4K","x":2278,"y":6.61e-3},{"s":"4K","x":2330,"y":6.76e-3},{"s":"4K","x":2400,"y":6.31e-3},{"s":"4K","x":2430,"y":5.75e-3},{"s":"4K","x":2475,"y":5.01e-3},{"s":"4K","x":2500,"y":2.82e-3},{"s":"4K","x":2521,"y":1.17e-3},{"s":"4K","x":2535,"y":2.0e-3},{"s":"4K","x":2552,"y":2.82e-3},{"s":"4K","x":2590,"y":3.16e-3},{"s":"4K","x":2643,"y":3.89e-3},{"s":"4K","x":2690,"y":3.47e-3},{"s":"4K","x":2734,"y":2.69e-3},{"s":"4K","x":2765,"y":1.78e-3},{"s":"4K","x":2790,"y":7.08e-4},{"s":"4K","x":2810,"y":2.51e-4},{"s":"4K","x":2825,"y":3.63e-5},{"s":"4K","x":2835,"y":2.51e-4},{"s":"4K","x":2845,"y":6.31e-5},{"s":"4K","x":2855,"y":3.16e-4},{"s":"4K","x":2865,"y":1e-4},{"s":"4K","x":2875,"y":2.51e-4},{"s":"4K","x":2885,"y":2.0e-5},{"s":"4K","x":2895,"y":2.0e-4},{"s":"4K","x":2905,"y":7.94e-5},{"s":"4K","x":2915,"y":2.51e-4},{"s":"4K","x":2925,"y":5.01e-5},{"s":"4K","x":2935,"y":2.0e-4},{"s":"4K","x":2950,"y":1.58e-4},{"s":"4K","x":2965,"y":3.16e-4},{"s":"4K","x":2985,"y":6.31e-4},{"s":"4K","x":3008,"y":1.17e-3},{"s":"4K","x":3030,"y":1.55e-3},{"s":"4K","x":3060,"y":1.26e-3},{"s":"4K","x":3090,"y":1.2e-3},{"s":"4K","x":3140,"y":1.12e-3},{"s":"4K","x":3160,"y":3.24e-4},{"s":"4K","x":3180,"y":8.91e-4},{"s":"4K","x":3200,"y":6.31e-4},{"s":"4K","x":3236,"y":5.01e-5},{"s":"4K","x":3250,"y":3.98e-4},{"s":"4K","x":3265,"y":2.0e-4},{"s":"4K","x":3280,"y":3.98e-4},{"s":"4K","x":3295,"y":1.26e-4},{"s":"4K","x":3310,"y":3.16e-4},{"s":"4K","x":3325,"y":1.58e-4},{"s":"4K","x":3340,"y":6.31e-5},{"s":"4K","x":3355,"y":2.51e-4},{"s":"4K","x":3370,"y":1.26e-4},{"s":"4K","x":3385,"y":3.16e-4},{"s":"4K","x":3403,"y":5.01e-5},{"s":"4K","x":3415,"y":2.0e-4},{"s":"4K","x":3430,"y":1.26e-4},{"s":"4K","x":3445,"y":2.51e-4},{"s":"4K","x":3458,"y":5.01e-5},{"s":"4K","x":3470,"y":2.51e-4},{"s":"4K","x":3495,"y":5.01e-4},{"s":"4K","x":3520,"y":8.91e-4},{"s":"4K","x":3560,"y":1.26e-3},{"s":"4K","x":3600,"y":2.0e-3},{"s":"4K","x":3650,"y":2.63e-3},{"s":"4K","x":3700,"y":3.16e-3},{"s":"4K","x":3768,"y":4.37e-3},{"s":"4K","x":3799,"y":5.5e-3},{"s":"4K","x":3850,"y":5.01e-3},{"s":"4K","x":3900,"y":4.68e-3},{"s":"4K","x":3951,"y":5.01e-3},
{"s":"4K","x":4000,"y":0.0046},{"s":"4K","x":4025,"y":0.0043},{"s":"4K","x":4050,"y":0.0045},{"s":"4K","x":4075,"y":0.0042},{"s":"4K","x":4100,"y":0.0044},{"s":"4K","x":4125,"y":0.0041},{"s":"4K","x":4150,"y":0.0044},{"s":"4K","x":4175,"y":0.0042},{"s":"4K","x":4200,"y":0.0045},{"s":"4K","x":4225,"y":0.0043},{"s":"4K","x":4250,"y":0.0046},{"s":"4K","x":4275,"y":0.0042},{"s":"4K","x":4300,"y":0.0044},{"s":"4K","x":4325,"y":0.0041},{"s":"4K","x":4350,"y":0.0045},{"s":"4K","x":4375,"y":0.0043},{"s":"4K","x":4400,"y":0.0046},{"s":"4K","x":4425,"y":0.0044},{"s":"4K","x":4450,"y":0.0047},{"s":"4K","x":4475,"y":0.0044},{"s":"4K","x":4500,"y":0.0046},{"s":"4K","x":4525,"y":0.0043},{"s":"4K","x":4550,"y":0.0047},{"s":"4K","x":4575,"y":0.0045},{"s":"4K","x":4600,"y":0.0048},{"s":"4K","x":4625,"y":0.0044},{"s":"4K","x":4650,"y":0.0046},{"s":"4K","x":4675,"y":0.0043},{"s":"4K","x":4700,"y":0.0047},{"s":"4K","x":4725,"y":0.0044},{"s":"4K","x":4750,"y":0.0046},{"s":"4K","x":4775,"y":0.0043},{"s":"4K","x":4800,"y":0.0047},{"s":"4K","x":4825,"y":0.0045},{"s":"4K","x":4850,"y":0.0048},{"s":"4K","x":4875,"y":0.0045},{"s":"4K","x":4900,"y":0.0047},{"s":"4K","x":4925,"y":0.0044},{"s":"4K","x":4950,"y":0.0048},{"s":"4K","x":4975,"y":0.0050},{"s":"4K","x":5000,"y":0.0032}
  ]
},
"spacing": 138,
"bounds": "flush",
"hconcat": [
 {
  "width": 548, "height": 353,
  "title": {"text": "Reststrahlen Powder Measurement"},
  "layer": [
   {"data": {"name": "left"}, "transform": [{"filter": "datum.s == 'CaCO3'"}],
    "mark": {"type": "line", "clip": true, "strokeWidth": 1.2},
    "encoding": {
     "x": {"field": "x", "type": "quantitative", "scale": {"domain": [0, 5000], "nice": false, "zero": false},
       "axis": {"orient": "top", "values": [0, 1000, 2000, 3000, 4000, 5000], "labelExpr": "format(datum.value * 0.03, 'd')", "title": "Frequency (THz)", "labelPadding": 8, "titlePadding": 2}},
     "y": {"field": "y", "type": "quantitative", "scale": {"type": "log", "domain": [0.00001, 1], "nice": false},
       "axis": {"orient": "right", "labels": false, "title": null, "values": [0.00001, 0.0001, 0.001, 0.01, 0.1, 1]}},
     "color": {"field": "s", "type": "nominal", "scale": {"domain": ["CaCO3", "MgO"], "range": ["#0000ff", "#ff0000"]}, "legend": {"title": null}}
    }},
   {"data": {"name": "left"}, "transform": [{"filter": "datum.s == 'MgO'"}],
    "mark": {"type": "line", "clip": true, "strokeWidth": 1.2},
    "encoding": {
     "x": {"field": "x", "type": "quantitative", "scale": {"domain": [0, 5000], "nice": false, "zero": false}, "axis": null},
     "y": {"field": "y", "type": "quantitative", "scale": {"type": "log", "domain": [0.00001, 1], "nice": false}, "axis": null},
     "color": {"field": "s", "type": "nominal", "scale": {"domain": ["CaCO3", "MgO"], "range": ["#0000ff", "#ff0000"]}, "legend": {"title": null}}
    }},
   {"data": {"name": "bb"},
    "mark": {"type": "line", "clip": true, "color": "black", "strokeWidth": 1},
    "encoding": {
     "x": {"field": "x", "type": "quantitative", "scale": {"domain": [0, 5000], "nice": false, "zero": false},
       "axis": {"orient": "bottom", "values": [0, 1000, 2000, 3000, 4000, 5000], "format": "d", "title": "Wavenumber (cm⁻¹)", "labelPadding": 11, "titlePadding": 2}},
     "y": {"field": "y", "type": "quantitative", "scale": {"type": "log", "domain": [0.00001, 1], "nice": false},
       "axis": {"orient": "left", "values": [0.00001, 0.0001, 0.001, 0.01, 0.1, 1], "labelExpr": "['10⁻⁵','10⁻⁴','10⁻³','10⁻²','10⁻¹','1'][round(log(datum.value)/LN10) + 5]", "title": "Transmittance", "titleFontSize": 22, "labelPadding": 11, "titlePadding": -3}}
    }},
   {"data": {"name": "ann"},
    "mark": {"type": "text", "align": "left", "baseline": "middle", "lineBreak": "\n", "lineHeight": 23, "fontSize": 16, "font": "DejaVu Sans Condensed", "color": "black"},
    "encoding": {
     "x": {"field": "x", "type": "quantitative", "scale": {"domain": [0, 5000], "nice": false, "zero": false}, "axis": null},
     "y": {"field": "y", "type": "quantitative", "scale": {"type": "log", "domain": [0.00001, 1], "nice": false}, "axis": null},
     "text": {"field": "t"}
    }}
  ],
  "resolve": {"axis": {"x": "independent", "y": "independent"}}
 },
 {
  "width": 548, "height": 353,
  "title": {"text": "Mix Comparison, Warm & Cold"},
  "layer": [
   {"data": {"name": "right"}, "transform": [{"filter": "datum.s == '300K'"}],
    "mark": {"type": "line", "clip": true, "strokeWidth": 1.2},
    "encoding": {
     "x": {"field": "x", "type": "quantitative", "scale": {"domain": [0, 5000], "nice": false, "zero": false},
       "axis": {"orient": "top", "values": [0, 1000, 2000, 3000, 4000, 5000], "labelExpr": "format(datum.value * 0.03, 'd')", "title": "Frequency (THz)", "labelPadding": 8, "titlePadding": 2}},
     "y": {"field": "y", "type": "quantitative", "scale": {"type": "log", "domain": [0.00001, 1], "nice": false},
       "axis": {"orient": "right", "labels": false, "title": null, "values": [0.00001, 0.0001, 0.001, 0.01, 0.1, 1]}},
     "color": {"field": "s", "type": "nominal", "scale": {"domain": ["300K", "4K"], "range": ["#ff0000", "#0000ff"]}, "legend": {"title": null}},
     "strokeDash": {"field": "s", "type": "nominal", "scale": {"domain": ["300K", "4K"], "range": [[1, 0], [3, 2]]}, "legend": {"title": null}}
    }},
   {"data": {"name": "right"}, "transform": [{"filter": "datum.s == '4K'"}],
    "mark": {"type": "line", "clip": true, "strokeWidth": 1.2},
    "encoding": {
     "x": {"field": "x", "type": "quantitative", "scale": {"domain": [0, 5000], "nice": false, "zero": false}, "axis": null},
     "y": {"field": "y", "type": "quantitative", "scale": {"type": "log", "domain": [0.00001, 1], "nice": false}, "axis": null},
     "color": {"field": "s", "type": "nominal", "scale": {"domain": ["300K", "4K"], "range": ["#ff0000", "#0000ff"]}, "legend": {"title": null}},
     "strokeDash": {"field": "s", "type": "nominal", "scale": {"domain": ["300K", "4K"], "range": [[1, 0], [3, 2]]}, "legend": {"title": null}}
    }},
   {"data": {"name": "bb"},
    "mark": {"type": "line", "clip": true, "color": "black", "strokeWidth": 1},
    "encoding": {
     "x": {"field": "x", "type": "quantitative", "scale": {"domain": [0, 5000], "nice": false, "zero": false},
       "axis": {"orient": "bottom", "values": [0, 1000, 2000, 3000, 4000, 5000], "format": "d", "title": "Wavenumber (cm⁻¹)", "labelPadding": 11, "titlePadding": 2}},
     "y": {"field": "y", "type": "quantitative", "scale": {"type": "log", "domain": [0.00001, 1], "nice": false},
       "axis": {"orient": "left", "values": [0.00001, 0.0001, 0.001, 0.01, 0.1, 1], "labelExpr": "['10⁻⁵','10⁻⁴','10⁻³','10⁻²','10⁻¹','1'][round(log(datum.value)/LN10) + 5]", "title": "Transmittance", "titleFontSize": 22, "labelPadding": 11, "titlePadding": -3}}
    }},
   {"data": {"name": "ann"},
    "mark": {"type": "text", "align": "left", "baseline": "middle", "lineBreak": "\n", "lineHeight": 23, "fontSize": 16, "font": "DejaVu Sans Condensed", "color": "black"},
    "encoding": {
     "x": {"field": "x", "type": "quantitative", "scale": {"domain": [0, 5000], "nice": false, "zero": false}, "axis": null},
     "y": {"field": "y", "type": "quantitative", "scale": {"type": "log", "domain": [0.00001, 1], "nice": false}, "axis": null},
     "text": {"field": "t"}
    }}
  ],
  "resolve": {"axis": {"x": "independent", "y": "independent"}}
 }
]
}
